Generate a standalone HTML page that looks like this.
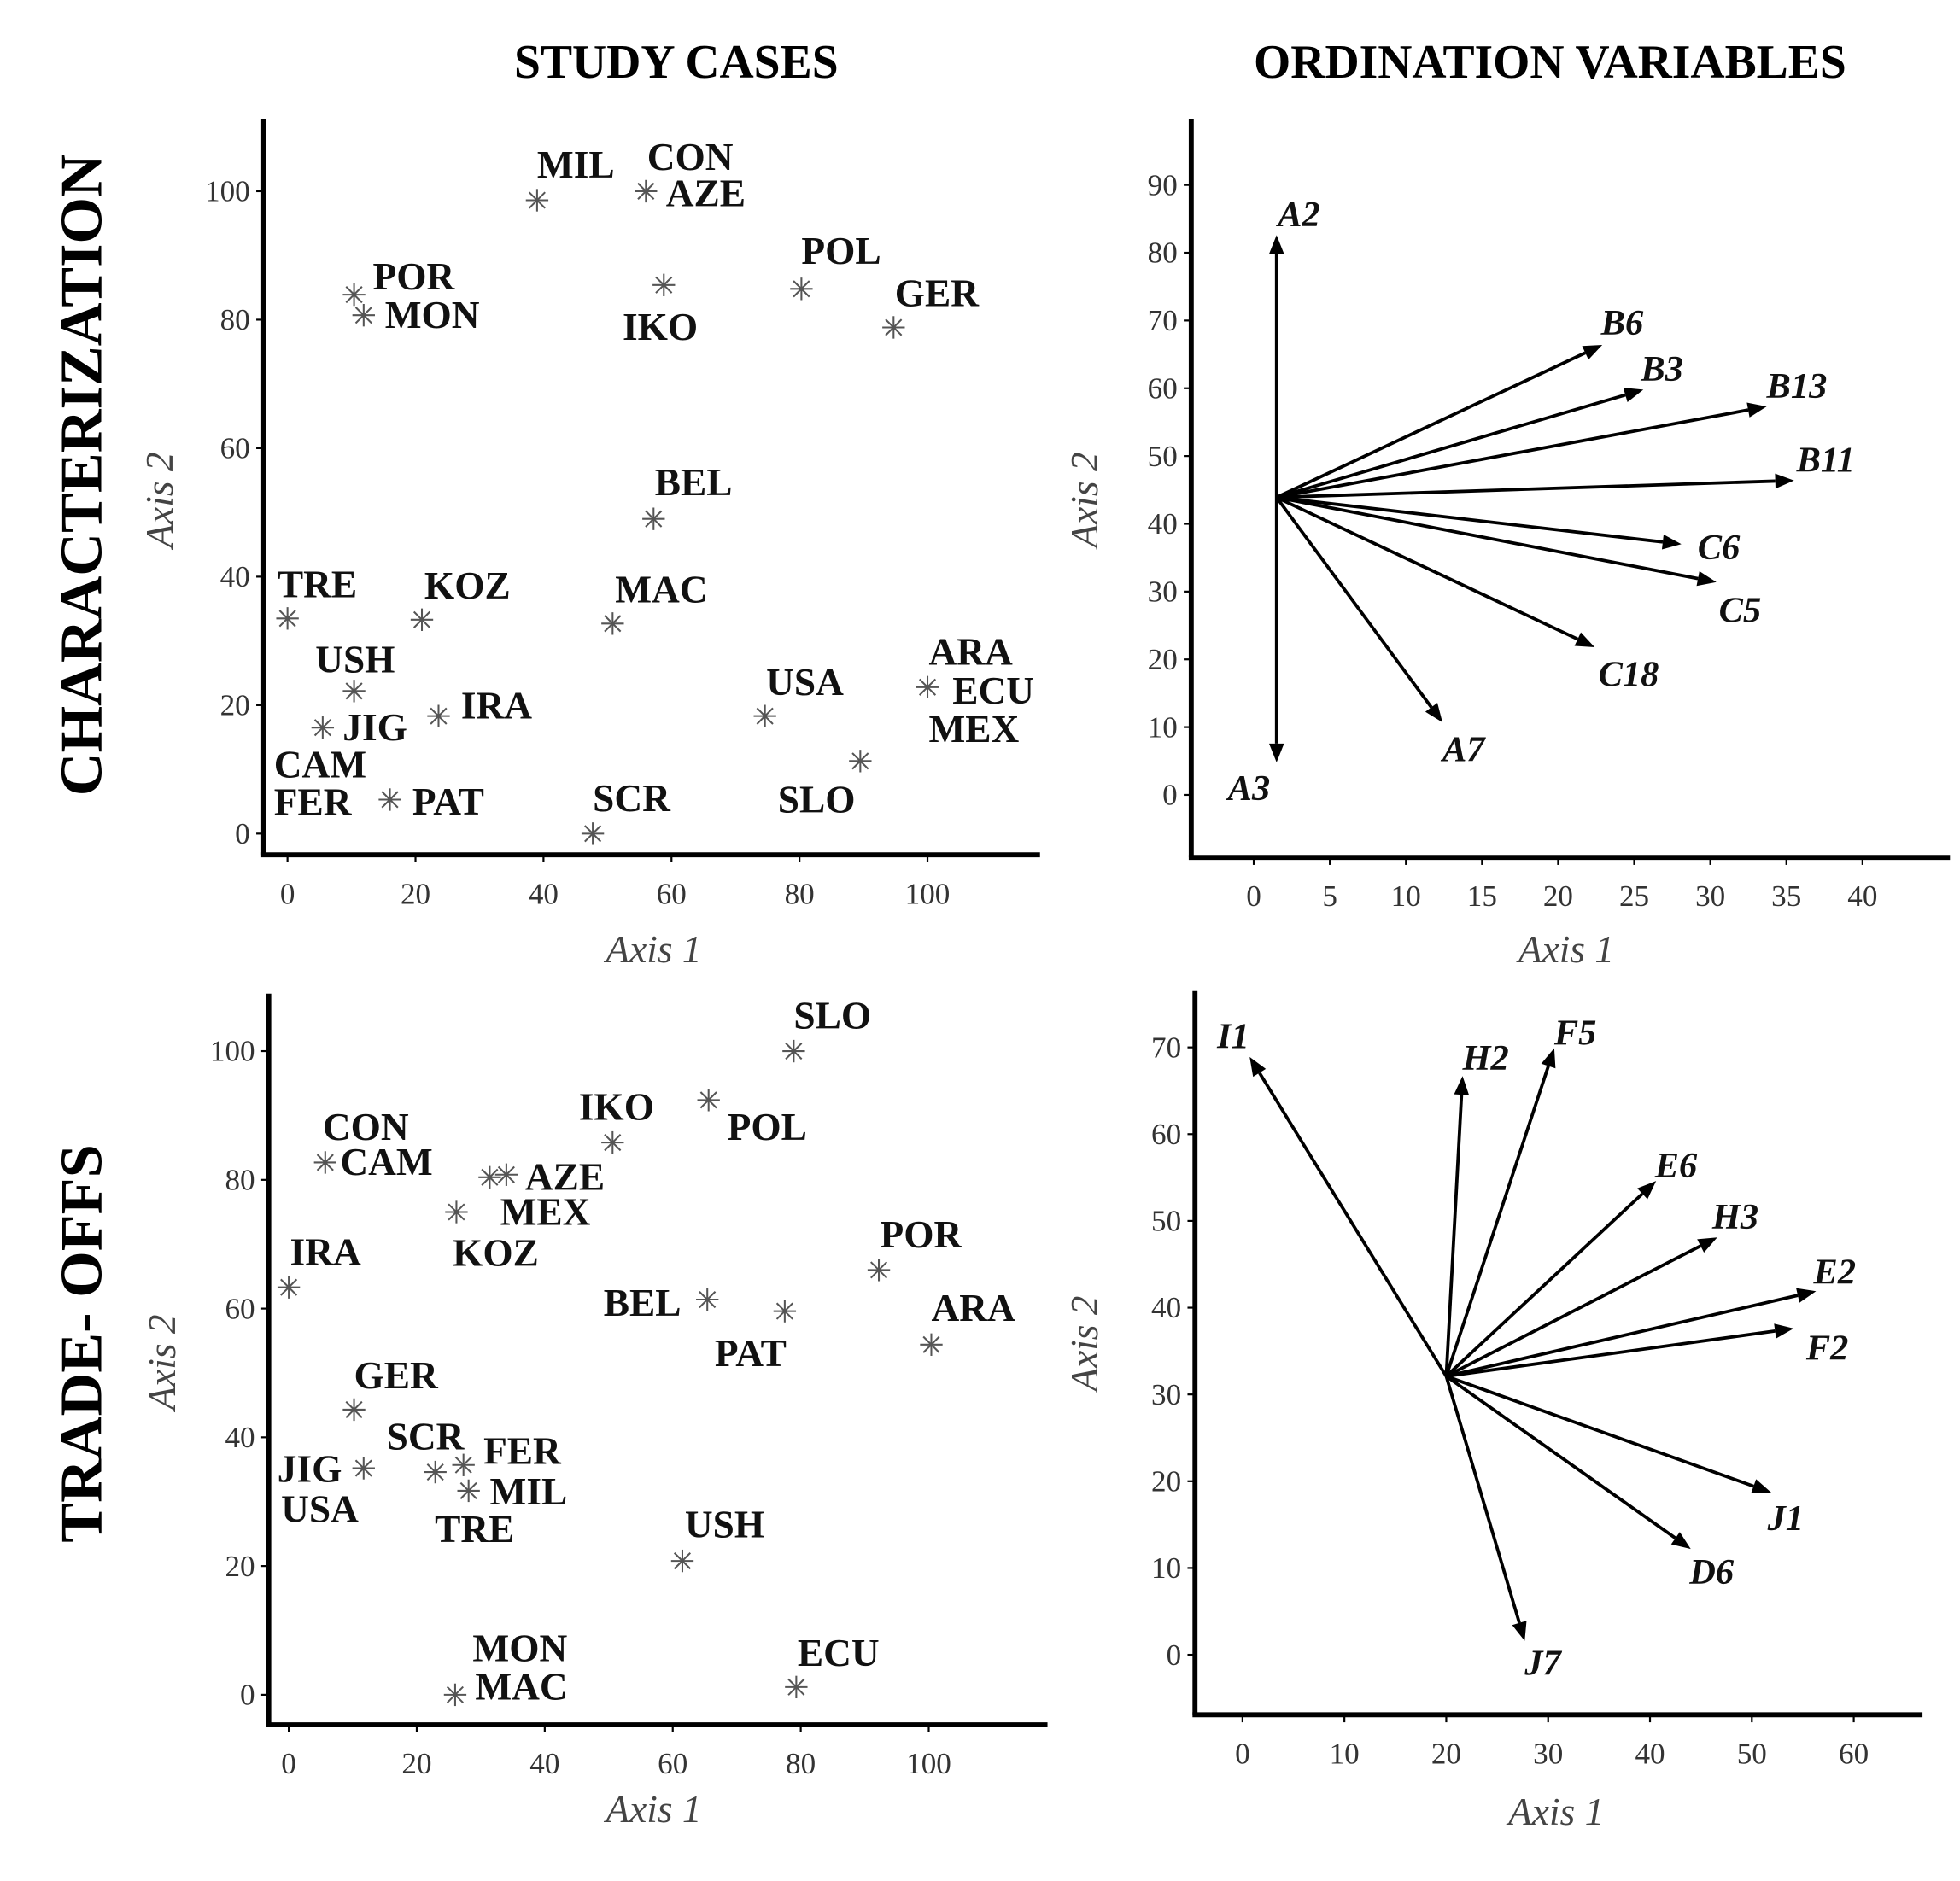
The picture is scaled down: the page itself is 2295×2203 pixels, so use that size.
<!DOCTYPE html>
<html><head><meta charset="utf-8">
<style>
html,body{margin:0;padding:0;background:#fff;}
svg{display:block;}
text{font-family:"Liberation Serif",serif;}
.pl{font-weight:bold;font-size:31px;fill:#111;}
.tk{font-size:24px;fill:#333;}
.at{font-size:31px;font-style:italic;fill:#444;}
.vl{font-size:29px;font-style:italic;font-weight:bold;fill:#111;}
</style></head>
<body>
<svg id="fig" width="2295" height="2203" viewBox="0 0 1568 1505" preserveAspectRatio="none" xmlns="http://www.w3.org/2000/svg">
<text x="541" y="62" text-anchor="middle" style="font-weight:bold;font-size:38px">STUDY CASES</text>
<text x="1240" y="62" text-anchor="middle" style="font-weight:bold;font-size:38px">ORDINATION VARIABLES</text>
<text transform="translate(81,380) rotate(-90)" text-anchor="middle" style="font-weight:bold;font-size:48px">CHARACTERIZATION</text>
<text transform="translate(81,1075) rotate(-90)" text-anchor="middle" style="font-weight:bold;font-size:48px">TRADE- OFFS</text>
</svg>
<script>
// ---------- Data: characterization study cases ----------
const c1Names = ["MIL","CON","AZE","POR","MON","IKO","POL","GER","BEL","TRE","KOZ","MAC","USH","JIG","CAM","FER","IRA","PAT","SCR","USA","SLO","ARA","ECU","MEX"];
const c1X = [39,56,56,10.4,11.9,58.8,80.3,94.7,57.2,0,21,50.8,10.4,5.5,5.5,5.5,23.6,16,47.7,74.6,89.5,100,100,100];
const c1Y = [98.6,100,100,83.9,80.7,85.4,84.8,78.8,49,33.5,33.3,32.7,22.2,16.5,16.5,16.5,18.3,5.3,0,18.3,11.3,22.8,22.8,22.8];
const c1Dx = [0,1,16,15,17,-33,0,1,1,-8,2,2,-31,16,-39,-39,18,18,0,1,-66,1,20,1];
const c1Dy = [-18,-17,12,-4,10,44,-20,-17,-19,-17,-17,-17,-15,10,40,70,2,12,-18,-17,41,-18,13,44];
// ---------- Data: trade-offs study cases ----------
const c2Names = ["SLO","POL","IKO","CON","CAM","AZE","MEX","KOZ","IRA","POR","BEL","PAT","ARA","GER","JIG","USA","SCR","FER","MIL","TRE","USH","ECU","MON","MAC"];
const c2X = [78.9,65.6,50.6,5.7,5.7,34,34,26.2,0,92.2,65.4,77.5,100.4,10.2,11.7,11.7,22.9,27.3,28.1,28.1,61.5,79.3,26,26];
const c2Y = [100,92.4,85.8,82.7,82.7,80.8,80.8,75,63.3,66,61.4,59.6,54.4,44.3,35.2,35.2,34.6,35.7,31.7,31.7,20.8,1.2,0,0];
const c2Dx = [0,15,-27,-2,12,15,-5,-3,1,1,-83,-56,0,0,-69,-66,-39,16,17,-27,2,1,14,16];
const c2Dy = [-18,32,-18,-18,10,12,40,43,-18,-18,13,44,-19,-17,11,43,-18,-1,11,41,-19,-17,-27,4];
const c2Extra = [[31.4,80.4]];
// ---------- Data: characterization vectors ----------
const v1Names = ["A2","A3","B6","B3","B13","B11","C6","C5","C18","A7"];
const v1X = [1.5,1.5,22.9,25.6,33.7,35.5,28.1,30.4,22.4,12.4];
const v1Y = [82.6,4.8,66.4,59.8,57.3,46.4,37,31.4,21.8,10.7];
const v1Origin = [1.5,43.9];
const v1Dx = [1,-39,-1,-2,0,2,13,2,3,0];
const v1Dy = [-7,30,-8,-7,-7,-7,12,32,31,31];
// ---------- Data: trade-off vectors ----------
const v2Names = ["I1","H2","F5","E6","H3","E2","F2","J1","D6","J7"];
const v2X = [0.7,21.6,30.6,40.6,46.6,56.3,54.1,51.9,44,27.7];
const v2Y = [68.9,66.7,69.9,54.6,48.1,41.9,37.6,18.7,12.2,1.6];
const v2Origin = [20,32.1];
const v2Dx = [-26,0,0,-1,-4,-2,10,-3,-1,0];
const v2Dy = [-7,-5,-3,-3,-7,-6,25,30,28,27];
// ---------- Tick labels ----------
const caseTicks = [0,20,40,60,80,100];
const v1XTicks = [0,5,10,15,20,25,30,35,40];
const v1YTicks = [0,10,20,30,40,50,60,70,80,90];
const v2XTicks = [0,10,20,30,40,50,60];
const v2YTicks = [0,10,20,30,40,50,60,70];

const NS="http://www.w3.org/2000/svg";
const svg=document.getElementById('fig');
function mk(tag,attrs,parent){const e=document.createElementNS(NS,tag);for(const k in attrs)e.setAttribute(k,attrs[k]);(parent||svg).appendChild(e);return e;}
function lin(d0,d1,r0,r1){return v=>r0+(v-d0)*(r1-r0)/(d1-d0);}

function panel(name,p){
  const g=mk('g',{});
  
  
  const ya=mk('line',{x1:p.ax,y1:p.top,x2:p.ax,y2:p.ay,stroke:'#000','stroke-width':4},g);
  
  
  const xa=mk('line',{x1:p.ax-2,y1:p.ay,x2:p.right,y2:p.ay,stroke:'#000','stroke-width':4},g);
  
  
  p.xt.forEach(v=>{
    const x=p.sx(v);
    mk('line',{x1:x,y1:p.ay,x2:x,y2:p.ay+6,stroke:'#000','stroke-width':1.5},g);
    const t=mk('text',{x:x,y:p.ay+39,'text-anchor':'middle',class:'tk'},g);
    
    
    t.textContent=v;
  });
  p.yt.forEach(v=>{
    const y=p.sy(v);
    mk('line',{x1:p.ax-6,y1:y,x2:p.ax,y2:y,stroke:'#000','stroke-width':1.5},g);
    const t=mk('text',{x:p.ax-11,y:y+8,'text-anchor':'end',class:'tk'},g);
    
    
    t.textContent=v;
  });
  const xt=mk('text',{x:p.xtx,y:p.xty,'text-anchor':'middle',class:'at'},g);
  
  
  xt.textContent='Axis 1';
  const yt=mk('text',{transform:`translate(${p.ytx},${p.yty}) rotate(-90)`,'text-anchor':'middle',class:'at'},g);
  
  
  yt.textContent='Axis 2';
  return g;
}
function star(g,x,y){
  const s=mk('g',{stroke:'#555','stroke-width':1.4},g);
  
  
  const r=9;
  for(let a=0;a<4;a++){const an=a*Math.PI/4;mk('line',{x1:x-r*Math.cos(an),y1:y-r*Math.sin(an),x2:x+r*Math.cos(an),y2:y+r*Math.sin(an)},s);}
}
function cases(name,p,names,xs,ys,dx,dy,extra){
  const g=panel(name,p);
  const seen={};
  names.forEach((n,i)=>{
    const x=p.sx(xs[i]),y=p.sy(ys[i]);
    const key=xs[i]+','+ys[i];
    if(!seen[key]){seen[key]=1;star(g,x,y);}
    const t=mk('text',{x:x+dx[i],y:y+dy[i],class:'pl'},g);
    
    
    t.textContent=n;
  });
  (extra||[]).forEach(e=>star(g,p.sx(e[0]),p.sy(e[1])));
}
function vectors(name,p,names,xs,ys,o,dx,dy){
  const g=panel(name,p);
  const ox=p.sx(o[0]),oy=p.sy(o[1]);
  names.forEach((n,i)=>{
    const x=p.sx(xs[i]),y=p.sy(ys[i]);
    const ang=Math.atan2(y-oy,x-ox),L=15,W=6;
    const bx=x-L*Math.cos(ang),by=y-L*Math.sin(ang);
    const l=mk('line',{x1:ox,y1:oy,x2:bx,y2:by,stroke:'#000','stroke-width':2.6},g);
    
    
    const px=-Math.sin(ang),py=Math.cos(ang);
    const h=mk('polygon',{points:`${x},${y} ${bx+W*px},${by+W*py} ${bx-W*px},${by-W*py}`,fill:'#000'},g);
    
    
    const t=mk('text',{x:x+dx[i],y:y+dy[i],class:'vl'},g);
    
    
    t.textContent=n;
  });
}
cases('characterization-cases-panel',{ax:211,ay:684,top:95,right:832,sx:lin(0,100,230,742),sy:lin(0,100,667,153),xt:caseTicks,yt:caseTicks,xtx:523,xty:770,ytx:138,yty:400},c1Names,c1X,c1Y,c1Dx,c1Dy);
cases('trade-offs-cases-panel',{ax:215,ay:1380,top:795,right:838,sx:lin(0,100,231,743),sy:lin(0,100,1356,841),xt:caseTicks,yt:caseTicks,xtx:523,xty:1458,ytx:140,yty:1090},c2Names,c2X,c2Y,c2Dx,c2Dy,c2Extra);
vectors('characterization-vectors-panel',{ax:953,ay:686,top:95,right:1560,sx:lin(0,40,1003,1490),sy:lin(0,90,636,148),xt:v1XTicks,yt:v1YTicks,xtx:1253,xty:770,ytx:878,yty:400},v1Names,v1X,v1Y,v1Origin,v1Dx,v1Dy);
vectors('trade-offs-vectors-panel',{ax:956,ay:1372,top:793,right:1538,sx:lin(0,60,994,1483),sy:lin(0,70,1324,838),xt:v2XTicks,yt:v2YTicks,xtx:1245,xty:1460,ytx:878,yty:1075},v2Names,v2X,v2Y,v2Origin,v2Dx,v2Dy);
</script>
</body></html>
